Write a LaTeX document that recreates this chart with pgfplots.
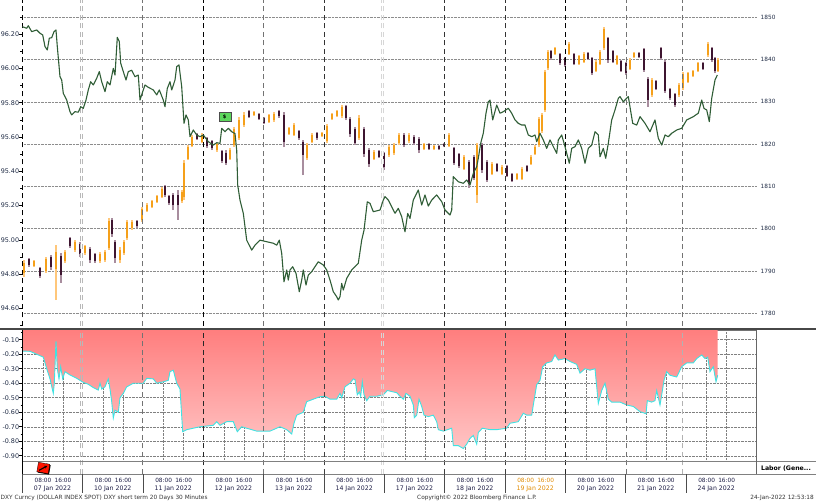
\documentclass[border=0pt]{standalone}
\usepackage{fontspec}
\setmainfont{DejaVu Sans}
\usepackage{pgfplots}
\usepackage{pgfplotstable}
\pgfplotsset{compat=1.18}
\usetikzlibrary{arrows.meta}
\definecolor{axtext}{HTML}{1E2A44}
\definecolor{dxygreen}{HTML}{2F5D36}
\definecolor{upbody}{HTML}{F5A01A}
\definecolor{upwick}{HTML}{FFC77A}
\definecolor{dnbody}{HTML}{3E1530}
\definecolor{dnwick}{HTML}{A88D9E}
\definecolor{corrtop}{HTML}{FF7E7E}
\definecolor{corrbot}{HTML}{FFC4C4}
\definecolor{corrline}{HTML}{3FE3E3}
\definecolor{flaggreen}{HTML}{5CD65C}
\definecolor{datecol}{HTML}{1C1C44}
\definecolor{orangelab}{HTML}{E08A00}

% Gold (XAU) 30-min candles, up candles: x l h o c
\pgfplotstableread{
x l h o c
1.7 1788.6 1792.6 1789.5 1791.8
11.7 1791.0 1792.6 1791.3 1792.3
23.7 1789.5 1793.3 1790.0 1792.8
33.7 1783.1 1796.2 1790.5 1794.5
42.7 1791.9 1795.0 1792.3 1794.6
52.7 1794.5 1797.3 1795.0 1796.9
62.7 1793.8 1796.2 1794.2 1795.8
77.7 1791.9 1794.5 1792.3 1794.0
82.7 1792.1 1795.0 1792.6 1794.6
86.7 1795.0 1802.5 1795.5 1801.8
97.7 1791.9 1795.7 1792.5 1795.0
101.7 1793.8 1797.3 1794.3 1796.8
104.7 1797.3 1802.1 1797.8 1801.5
109.7 1799.7 1802.1 1800.2 1801.6
119.7 1801.6 1805.1 1802.0 1804.6
124.7 1804.0 1806.1 1804.3 1805.7
129.7 1804.9 1806.8 1805.2 1806.5
134.7 1806.1 1808.0 1806.4 1807.7
139.7 1807.3 1809.9 1807.6 1809.5
159.7 1806.1 1809.2 1806.5 1808.7
161.7 1806.8 1816.25 1807.5 1815.5
165.7 1816.25 1819.8 1816.6 1819.4
169.7 1819.3 1822.2 1819.6 1821.8
179.7 1820.3 1822.6 1820.6 1822.2
194.7 1818.2 1820.3 1818.5 1820.0
207.7 1816.25 1819.1 1816.6 1818.7
211.7 1819.3 1824.1 1819.7 1823.6
216.7 1821.0 1826.4 1821.5 1825.8
221.7 1824.1 1827.6 1824.5 1827.0
231.7 1826.7 1827.85 1826.9 1827.6
246.7 1825.0 1827.1 1825.3 1826.8
251.7 1825.25 1827.6 1825.6 1827.2
266.7 1822.2 1824.1 1822.5 1823.8
271.7 1821.9 1825.0 1822.2 1824.6
284.7 1816.25 1820.3 1816.8 1819.8
289.7 1820.3 1822.6 1820.6 1822.2
299.7 1821.7 1822.9 1821.9 1822.6
304.7 1820.3 1824.8 1820.7 1824.3
309.7 1825.7 1827.4 1826.0 1827.1
314.7 1826.4 1828.1 1826.7 1827.8
319.7 1826.2 1829.3 1826.6 1828.9
336.7 1821.0 1826.9 1821.5 1826.3
351.7 1816.25 1818.6 1816.6 1818.2
366.7 1817.0 1819.8 1817.4 1819.4
371.7 1817.4 1820.3 1817.8 1819.9
376.7 1819.8 1822.6 1820.2 1822.2
386.7 1820.3 1822.6 1820.7 1822.2
401.7 1818.6 1820.3 1818.9 1820.0
411.7 1818.6 1819.8 1818.8 1819.6
426.7 1819.3 1822.6 1819.6 1822.2
441.7 1813.9 1817.4 1814.2 1817.0
454.7 1806.1 1820.3 1808.0 1819.8
469.7 1812.7 1815.8 1813.0 1815.4
479.7 1812.7 1815.1 1813.0 1814.7
494.7 1811.5 1813.2 1811.8 1812.9
499.7 1811.5 1814.6 1811.8 1814.2
508.7 1815.1 1817.4 1815.4 1817.0
512.7 1817.4 1819.8 1817.7 1819.4
516.7 1819.3 1826.4 1819.8 1826.0
519.7 1822.6 1827.4 1823.0 1827.0
522.7 1827.6 1837.5 1828.0 1837.0
525.7 1837.5 1842.3 1837.9 1841.8
532.7 1841.1 1843.0 1841.4 1842.7
546.7 1841.1 1844.2 1841.4 1843.8
556.7 1838.7 1841.1 1839.0 1840.8
561.7 1839.2 1841.8 1839.5 1841.4
573.7 1837.1 1839.9 1837.4 1839.5
577.7 1838.7 1842.3 1839.0 1841.9
581.7 1842.3 1847.7 1842.7 1847.2
594.7 1838.7 1841.1 1839.0 1840.8
607.7 1837.5 1840.4 1837.8 1840.0
611.7 1840.4 1841.8 1840.6 1841.5
629.7 1831.2 1835.7 1831.6 1835.2
656.7 1831.2 1834.5 1831.6 1834.1
660.7 1832.8 1837.1 1833.2 1836.7
665.7 1834.5 1837.1 1834.8 1836.8
670.7 1835.9 1837.5 1836.1 1837.3
675.7 1837.1 1839.4 1837.4 1839.1
685.7 1840.6 1844.2 1841.0 1843.8
695.7 1837.1 1840.4 1837.4 1840.0
}\goldup

% down candles: x l h o c
\pgfplotstableread{
x l h o c
6.7 1791.0 1793.1 1792.8 1791.5
17.7 1788.35 1791.0 1790.8 1788.8
28.7 1790.25 1793.8 1793.3 1791.0
38.7 1787.2 1794.3 1793.5 1789.0
47.7 1795.45 1798.05 1797.8 1795.8
57.7 1793.3 1796.9 1796.5 1794.0
67.7 1791.9 1795.7 1795.3 1792.5
72.7 1791.9 1794.3 1794.0 1792.3
89.7 1798.05 1802.5 1802.0 1798.8
92.7 1791.9 1797.3 1796.8 1793.0
114.7 1800.2 1802.1 1801.8 1800.6
142.7 1807.5 1810.35 1810.0 1808.0
146.7 1805.6 1808.0 1807.7 1806.0
150.7 1804.4 1808.5 1808.0 1805.5
155.7 1802.1 1809.2 1808.0 1805.5
174.7 1821.0 1822.6 1822.4 1821.3
184.7 1819.1 1821.7 1821.4 1819.5
189.7 1818.6 1821.0 1820.7 1819.0
199.7 1815.6 1818.6 1818.3 1816.0
203.7 1815.1 1818.6 1818.0 1815.6
226.7 1826.2 1828.1 1827.8 1826.5
236.7 1825.7 1827.4 1827.1 1826.0
241.7 1824.8 1826.4 1826.1 1825.0
256.7 1826.2 1828.1 1827.8 1826.6
261.7 1819.3 1827.6 1827.0 1820.5
276.7 1821.0 1823.35 1823.0 1821.4
280.7 1812.7 1821.0 1820.6 1817.5
294.7 1821.0 1822.9 1822.6 1821.4
323.7 1825.7 1829.3 1829.0 1826.2
327.7 1821.7 1826.4 1826.0 1822.3
332.7 1819.8 1824.1 1823.7 1820.3
341.7 1817.0 1824.1 1823.6 1817.7
346.7 1814.6 1819.1 1818.7 1815.2
356.7 1816.7 1818.6 1818.3 1817.0
361.7 1813.9 1818.2 1817.8 1814.5
381.7 1819.3 1822.6 1822.2 1819.8
391.7 1819.8 1822.2 1821.8 1820.2
396.7 1817.9 1821.7 1821.3 1818.5
406.7 1818.6 1820.3 1820.0 1818.9
416.7 1818.6 1819.8 1819.6 1818.8
421.7 1819.3 1820.3 1820.1 1819.5
431.7 1815.1 1819.3 1819.0 1815.6
436.7 1814.4 1817.9 1817.6 1814.8
446.7 1809.6 1816.25 1815.8 1810.5
451.7 1811.5 1817.4 1817.0 1812.0
459.7 1813.2 1820.3 1819.8 1813.8
464.7 1811.1 1816.25 1815.8 1811.6
474.7 1813.4 1815.6 1815.3 1813.7
484.7 1812.2 1815.1 1814.8 1812.5
489.7 1811.1 1813.2 1812.9 1811.4
504.7 1813.4 1815.1 1814.8 1813.6
528.7 1839.9 1842.3 1842.0 1840.3
537.7 1838.7 1841.6 1841.3 1839.1
542.7 1838.3 1840.6 1840.3 1838.6
551.7 1838.7 1841.6 1841.3 1839.0
565.7 1839.9 1841.8 1841.5 1840.2
569.7 1836.4 1840.6 1840.3 1836.8
585.7 1839.2 1845.35 1845.0 1839.8
590.7 1839.2 1842.3 1842.0 1839.5
598.7 1837.1 1839.9 1839.6 1837.4
603.7 1836.4 1839.4 1839.1 1836.8
616.7 1840.4 1841.8 1841.5 1840.6
621.7 1837.1 1842.75 1842.4 1837.5
625.7 1828.8 1835.9 1835.5 1830.5
633.7 1832.8 1835.2 1834.9 1833.1
638.7 1839.9 1843.0 1842.7 1840.3
642.7 1832.1 1839.9 1839.5 1832.6
647.7 1830.45 1833.3 1833.0 1830.8
652.7 1828.8 1832.1 1831.8 1829.2
680.7 1837.5 1839.4 1839.1 1837.8
689.7 1839.4 1843.0 1842.7 1839.8
692.7 1836.8 1840.6 1840.3 1837.2
}\golddown

% DXY spot
\pgfplotstableread{
x v
0 96.244
4.4 96.235
6.0 96.25
9.4 96.215
14.4 96.225
17.7 96.206
20.4 96.196
22.7 96.128
25.0 96.108
27.0 96.177
29.4 96.18
31.7 96.215
33.7 96.225
35.0 96.128
37.7 95.952
39.4 95.933
41.0 95.855
44.4 95.816
47.7 95.748
49.4 95.729
52.7 95.748
56.0 95.745
58.4 95.777
61.0 95.768
63.7 95.816
66.0 95.875
68.4 95.923
71.0 95.904
74.4 95.943
77.0 95.982
79.4 95.923
82.7 95.865
85.0 95.923
87.7 95.904
91.0 96.001
92.7 95.962
95.0 96.182
97.0 96.157
98.4 96.031
101.0 95.982
103.7 95.933
106.0 95.982
109.4 95.99
112.7 95.952
116.0 95.962
117.7 95.816
120.4 95.865
122.7 95.904
126.0 95.89
131.0 95.875
134.4 95.846
137.0 95.875
141.0 95.816
142.7 95.777
145.0 95.884
147.7 95.923
149.4 95.875
152.7 95.933
154.4 96.011
156.7 96.021
159.4 95.894
161.7 95.680
163.7 95.729
166.0 95.70
167.7 95.602
171.0 95.641
174.4 95.612
177.7 95.602
181.0 95.612
186.0 95.573
191.0 95.553
194.4 95.567
197.7 95.563
199.4 95.651
202.7 95.631
206.0 95.651
209.4 95.631
212.7 95.62
214.4 95.524
215.4 95.32
217.7 95.232
221.0 95.155
224.4 94.998
229.4 94.94
232.7 94.969
237.7 94.998
244.4 94.989
251.0 94.98
254.4 94.969
257.0 94.998
259.4 94.921
261.7 94.755
264.4 94.824
266.0 94.765
267.7 94.824
270.4 94.843
273.7 94.804
277.0 94.697
279.4 94.765
281.0 94.824
283.7 94.736
286.0 94.794
289.4 94.814
292.7 94.843
296.0 94.872
301.0 94.853
304.4 94.824
307.7 94.765
311.0 94.697
314.4 94.668
316.0 94.649
317.7 94.668
319.4 94.746
321.0 94.707
324.4 94.775
329.4 94.824
332.7 94.843
336.0 94.863
339.4 94.998
341.7 95.056
345.0 95.222
347.7 95.213
351.0 95.164
357.7 95.174
361.0 95.232
362.7 95.252
366.0 95.232
369.4 95.193
372.7 95.155
376.0 95.184
379.4 95.135
382.7 95.047
385.4 95.154
387.7 95.125
391.0 95.232
396.0 95.291
399.4 95.203
402.7 95.262
406.0 95.197
409.4 95.232
414.4 95.262
419.4 95.223
422.7 95.174
427.7 95.145
429.4 95.174
431.0 95.369
436.0 95.339
441.0 95.330
444.4 95.349
447.7 95.320
451.0 95.388
454.4 95.427
456.0 95.476
458.4 95.564
461.0 95.622
463.7 95.739
466.0 95.806
467.7 95.816
470.4 95.70
474.4 95.787
477.7 95.739
481.0 95.748
486.0 95.768
489.4 95.739
492.7 95.70
496.0 95.68
499.4 95.67
502.7 95.67
506.0 95.612
509.4 95.602
512.7 95.612
514.4 95.573
517.7 95.622
521.0 95.583
524.4 95.534
527.7 95.583
531.0 95.544
534.4 95.505
536.0 95.583
539.4 95.612
542.7 95.544
547.0 95.447
549.4 95.534
552.7 95.544
556.0 95.583
559.4 95.534
562.7 95.447
566.0 95.534
569.4 95.553
572.7 95.631
576.0 95.612
577.7 95.485
581.0 95.534
583.4 95.476
586.0 95.563
589.4 95.70
592.7 95.758
596.0 95.826
597.7 95.836
601.0 95.806
606.0 95.836
610.4 95.68
614.4 95.67
617.7 95.719
622.7 95.68
627.7 95.631
632.7 95.70
636.0 95.593
639.4 95.553
642.7 95.612
646.0 95.602
649.4 95.622
654.4 95.641
659.4 95.651
664.4 95.70
671.0 95.719
676.0 95.739
679.4 95.816
681.7 95.767
684.4 95.758
687.0 95.69
689.4 95.826
692.7 95.933
695.0 95.962
}\dxy

% DXY short term correlation (20 days, 30 min)
\pgfplotstableread{
x v
0 -0.178
7.7 -0.18
14.4 -0.20
21.0 -0.22
24.4 -0.30
27.7 -0.37
31.0 -0.47
32.0 -0.40
33.7 -0.11
35.0 -0.30
36.7 -0.37
38.4 -0.286
40.4 -0.37
42.7 -0.32
47.7 -0.343
54.4 -0.366
61.0 -0.394
66.0 -0.407
71.0 -0.43
76.0 -0.447
77.7 -0.40
79.4 -0.44
82.7 -0.425
86.0 -0.37
87.7 -0.44
89.4 -0.527
91.0 -0.64
92.7 -0.585
96.0 -0.60
97.7 -0.50
101.0 -0.47
104.4 -0.425
111.0 -0.40
121.0 -0.40
124.4 -0.366
131.0 -0.37
134.4 -0.40
141.0 -0.39
146.0 -0.38
147.7 -0.32
151.0 -0.31
154.4 -0.40
157.7 -0.44
160.4 -0.734
164.4 -0.72
177.7 -0.70
191.0 -0.69
194.4 -0.665
197.7 -0.69
204.4 -0.665
211.0 -0.665
215.0 -0.734
219.4 -0.70
224.4 -0.71
234.4 -0.73
244.4 -0.73
247.7 -0.73
254.4 -0.71
257.7 -0.70
264.4 -0.72
269.4 -0.75
271.7 -0.676
274.4 -0.62
281.0 -0.60
284.4 -0.527
291.0 -0.51
297.7 -0.493
302.7 -0.49
307.7 -0.51
314.4 -0.51
317.7 -0.47
319.4 -0.50
322.7 -0.424
327.7 -0.40
331.0 -0.37
332.7 -0.375
335.0 -0.48
337.0 -0.46
338.4 -0.49
340.0 -0.39
341.7 -0.48
344.4 -0.52
347.7 -0.49
354.4 -0.49
361.0 -0.48
365.0 -0.45
371.0 -0.46
374.4 -0.465
377.7 -0.49
381.0 -0.51
383.7 -0.47
387.7 -0.49
391.0 -0.55
392.0 -0.637
394.4 -0.62
396.7 -0.51
399.4 -0.56
401.7 -0.62
406.0 -0.63
411.0 -0.62
414.4 -0.665
416.0 -0.72
421.0 -0.73
429.4 -0.71
431.0 -0.83
436.0 -0.83
441.0 -0.85
444.4 -0.82
447.7 -0.78
451.0 -0.76
454.4 -0.82
456.0 -0.74
460.0 -0.71
467.7 -0.72
474.4 -0.72
484.4 -0.71
487.7 -0.676
496.0 -0.665
501.0 -0.607
504.4 -0.62
509.4 -0.62
511.0 -0.55
514.4 -0.41
517.7 -0.38
520.4 -0.286
522.7 -0.27
524.4 -0.26
529.4 -0.25
532.7 -0.205
536.0 -0.24
542.7 -0.23
547.7 -0.25
554.4 -0.27
557.7 -0.33
562.7 -0.30
567.7 -0.31
572.7 -0.30
576.0 -0.54
579.4 -0.45
582.7 -0.40
586.0 -0.51
589.4 -0.53
597.7 -0.53
604.4 -0.55
611.0 -0.56
617.7 -0.596
623.7 -0.61
625.0 -0.52
629.4 -0.53
632.7 -0.52
634.4 -0.45
637.7 -0.55
639.4 -0.48
641.7 -0.38
644.4 -0.32
647.7 -0.345
654.4 -0.357
659.4 -0.286
664.4 -0.26
671.0 -0.26
674.4 -0.23
679.4 -0.205
682.7 -0.23
685.4 -0.22
687.7 -0.32
691.0 -0.286
693.7 -0.39
695.4 -0.345
}\corr

\begin{document}
\begin{tikzpicture}[x=1pt,y=1pt]
\path[use as bounding box] (0pt,0pt) rectangle (816pt,502pt);

% ---------- top panel: gold (right scale) ----------
\begin{axis}[at={(22.3pt,176pt)}, anchor=south west, scale only axis,
  width=733.7pt, height=326pt,
  xmin=0, xmax=733.7, ymin=1777.0, ymax=1854.09,
  hide x axis, axis y line*=right, y axis line style={draw=none},
  ytick={1780,1790,1800,1810,1820,1830,1840,1850},
  yticklabels={1780,1790,1800,1810,1820,1830,1840,1850},
  major tick length=0pt,
  ymajorgrids, grid style={densely dotted, black!45, line width=0.5pt},
  yticklabel style={anchor=west, inner sep=0pt, text=axtext, font=\fontsize{5.8}{6}\selectfont},
  yticklabel shift=4.5pt]
\addplot[draw=none, mark=none, forget plot, error bars/.cd, y dir=plus, y explicit, error mark=none,
  error bar style={line width=1.7pt, draw=upwick}]
  table[x=x, y=l, y error expr=\thisrow{h}-\thisrow{l}] {\goldup};
\addplot[draw=none, mark=none, forget plot, error bars/.cd, y dir=plus, y explicit, error mark=none,
  error bar style={line width=1.7pt, draw=dnwick}]
  table[x=x, y=l, y error expr=\thisrow{h}-\thisrow{l}] {\golddown};
\addplot[draw=none, mark=none, forget plot, error bars/.cd, y dir=plus, y explicit, error mark=none,
  error bar style={line width=1.1pt, draw=upbody}]
  table[x=x, y=o, y error expr=\thisrow{c}-\thisrow{o}] {\goldup};
\addplot[draw=none, mark=none, forget plot, error bars/.cd, y dir=plus, y explicit, error mark=none,
  error bar style={line width=1.1pt, draw=dnbody}]
  table[x=x, y=c, y error expr=\thisrow{o}-\thisrow{c}] {\golddown};
\end{axis}

% day separators, top panel
\foreach \xx/\cc/\lw in {22.3/black/0.9, 80.0/black!28/0.8, 82.3/black!28/0.8, 142.7/black!55/0.8,
  203.3/black/0.9, 263.3/black!55/0.8, 324.3/black!80/0.8, 381.0/black!16/0.8, 383.0/black!16/0.8,
  444.3/black!80/0.8, 505.7/black!80/0.8, 565.3/black/0.9, 626.3/black!55/0.8, 682.3/black!55/0.8}
  {\draw[draw=\cc, line width=\lw pt, dash pattern=on 5pt off 3.5pt] (\xx pt,176pt) -- (\xx pt,502pt);}

% ---------- top panel: DXY (left scale) ----------
\begin{axis}[at={(22.3pt,176pt)}, anchor=south west, scale only axis,
  width=733.7pt, height=326pt,
  xmin=0, xmax=733.7, ymin=94.497, ymax=96.40,
  hide x axis, axis y line*=left, y axis line style={draw=none},
  ytick={94.6,94.8,95.0,95.2,95.4,95.6,95.8,96.0,96.2},
  yticklabels={94.60,94.80,95.00,95.20,95.40,95.60,95.80,96.00,96.20},
  minor ytick={94.5,94.7,94.9,95.1,95.3,95.5,95.7,95.9,96.1,96.3},
  tick align=outside, major tick length=3pt, minor tick length=1.8pt,
  tick style={black, line width=0.6pt},
  yticklabel style={anchor=east, inner sep=0pt, text=axtext, font=\fontsize{6.4}{7}\selectfont},
  yticklabel shift=0pt]
\addplot[dxygreen, line width=1.1pt, line join=round] table[x=x, y=v] {\dxy};
\end{axis}

% event flag
\node[fill=flaggreen, draw=black!70, line width=0.4pt, inner sep=0pt, minimum width=12pt, minimum height=8.5pt,
  font=\fontsize{5}{5}\selectfont\bfseries] at (224.7pt,385.2pt) {\$};

% ---------- bottom panel: correlation ----------
\begin{axis}[at={(22.3pt,41pt)}, anchor=south west, scale only axis,
  width=733.7pt, height=131pt,
  xmin=0, xmax=733.7, ymin=-0.936, ymax=-0.033,
  axis line style={black!55, line width=0.6pt},
  xtick={20.7,40.7,81.0,101.0,141.4,161.4,201.7,221.7,262.0,282.0,322.4,342.4,382.7,402.7,443.0,463.0,503.3,523.3,563.7,583.7,624.0,644.0,684.3,704.3},
  xticklabels={}, xticklabel style={opacity=0}, x tick style={draw=none}, xmajorgrids,
  ytick={-0.9,-0.8,-0.7,-0.6,-0.5,-0.4,-0.3,-0.2,-0.1},
  yticklabels={-0.90,-0.80,-0.70,-0.60,-0.50,-0.40,-0.30,-0.20,-0.10},
  minor ytick={-0.85,-0.75,-0.65,-0.55,-0.45,-0.35,-0.25,-0.15,-0.05},
  ytick pos=left, ymajorgrids,
  grid style={densely dotted, black!50, line width=0.5pt},
  tick align=outside, major tick length=3pt, minor tick length=1.8pt,
  y tick style={black, line width=0.6pt},
  yticklabel style={anchor=east, inner sep=0pt, text=axtext, font=\fontsize{6.4}{7}\selectfont},
  yticklabel shift=0pt]
\addplot[draw=none, top color=corrtop, bottom color=corrbot] table[x=x, y=v] {\corr} \closedcycle;
\addplot[corrline, line width=0.9pt] table[x=x, y=v] {\corr};
\end{axis}

% day separators, bottom panel
\foreach \xx/\cc/\lw in {80.0/black!28/0.8, 82.3/black!28/0.8, 142.7/black!55/0.8,
  203.3/black!85/0.9, 263.3/black!55/0.8, 324.3/black!75/0.8, 381.0/black!16/0.8, 383.0/black!16/0.8,
  444.3/black!75/0.8, 505.7/black!75/0.8, 565.3/black!85/0.9, 626.3/black!55/0.8, 682.3/black!30/0.8}
  {\draw[draw=\cc, line width=\lw pt, dash pattern=on 5pt off 3.5pt] (\xx pt,28pt) -- (\xx pt,172pt);}

% panel separator and frames
\fill[black!72] (0pt,171.8pt) rectangle (816pt,174.4pt);
\draw[black!50, line width=0.5pt] (22.3pt,41pt) -- (816pt,41pt);
\draw[black!50, line width=0.5pt] (22.3pt,28pt) -- (816pt,28pt);
\draw[black!60, line width=0.6pt] (756pt,28pt) -- (756pt,172pt);
\draw[black, line width=0.7pt] (22.3pt,28pt) -- (22.3pt,172pt);
\node[font=\fontsize{6.2}{7}\selectfont\bfseries, inner sep=0pt] at (786pt,33.5pt) {Labor (Gene...};

% event icon in strip
\begin{scope}[rotate around={-10:(43.3pt,33.6pt)}]
\fill[black] (38.5pt,28.5pt) rectangle (50pt,38pt);
\fill[red!85!orange, draw=black, line width=0.3pt] (37.5pt,29.3pt) rectangle (49pt,38.8pt);
\draw[black, line width=1.1pt, -{Stealth[length=3pt,width=3pt]}] (39.5pt,31pt) -- (46.8pt,36.8pt);
\end{scope}

% x-axis labels
\foreach \i/\dd/\col in {0/07 Jan 2022/datecol, 1/10 Jan 2022/datecol, 2/11 Jan 2022/datecol,
  3/12 Jan 2022/datecol, 4/13 Jan 2022/datecol, 5/14 Jan 2022/datecol, 6/17 Jan 2022/datecol,
  7/18 Jan 2022/datecol, 8/19 Jan 2022/orangelab, 9/20 Jan 2022/datecol, 10/21 Jan 2022/datecol,
  11/24 Jan 2022/datecol}
{
  \pgfmathsetmacro\xs{22.3+60.33*\i}
  \draw[black!70, line width=0.6pt] (\xs pt,28pt) -- (\xs pt,9pt);
  \node[text=\col, inner sep=0pt, font=\fontsize{5.8}{6}\selectfont] at (\xs pt+20.7pt,21.5pt) {08:00};
  \node[text=\col, inner sep=0pt, font=\fontsize{5.8}{6}\selectfont] at (\xs pt+40.7pt,21.5pt) {16:00};
  \node[text=\col, inner sep=0pt, font=\fontsize{6.2}{7}\selectfont] at (\xs pt+30.2pt,13pt) {\dd};
}

% footer
\node[anchor=west, inner sep=0pt, text=black!80, font=\fontsize{5.8}{6}\selectfont] at (0.5pt,4pt) {DXY Curncy (DOLLAR INDEX SPOT) DXY short term 20 Days 30 Minutes};
\node[inner sep=0pt, text=black!80, font=\fontsize{5.8}{6}\selectfont] at (477pt,4pt) {Copyright© 2022 Bloomberg Finance L.P.};
\node[anchor=east, inner sep=0pt, text=black!80, font=\fontsize{5.8}{6}\selectfont] at (814pt,4pt) {24-Jan-2022 12:53:18};
\end{tikzpicture}
\end{document}
